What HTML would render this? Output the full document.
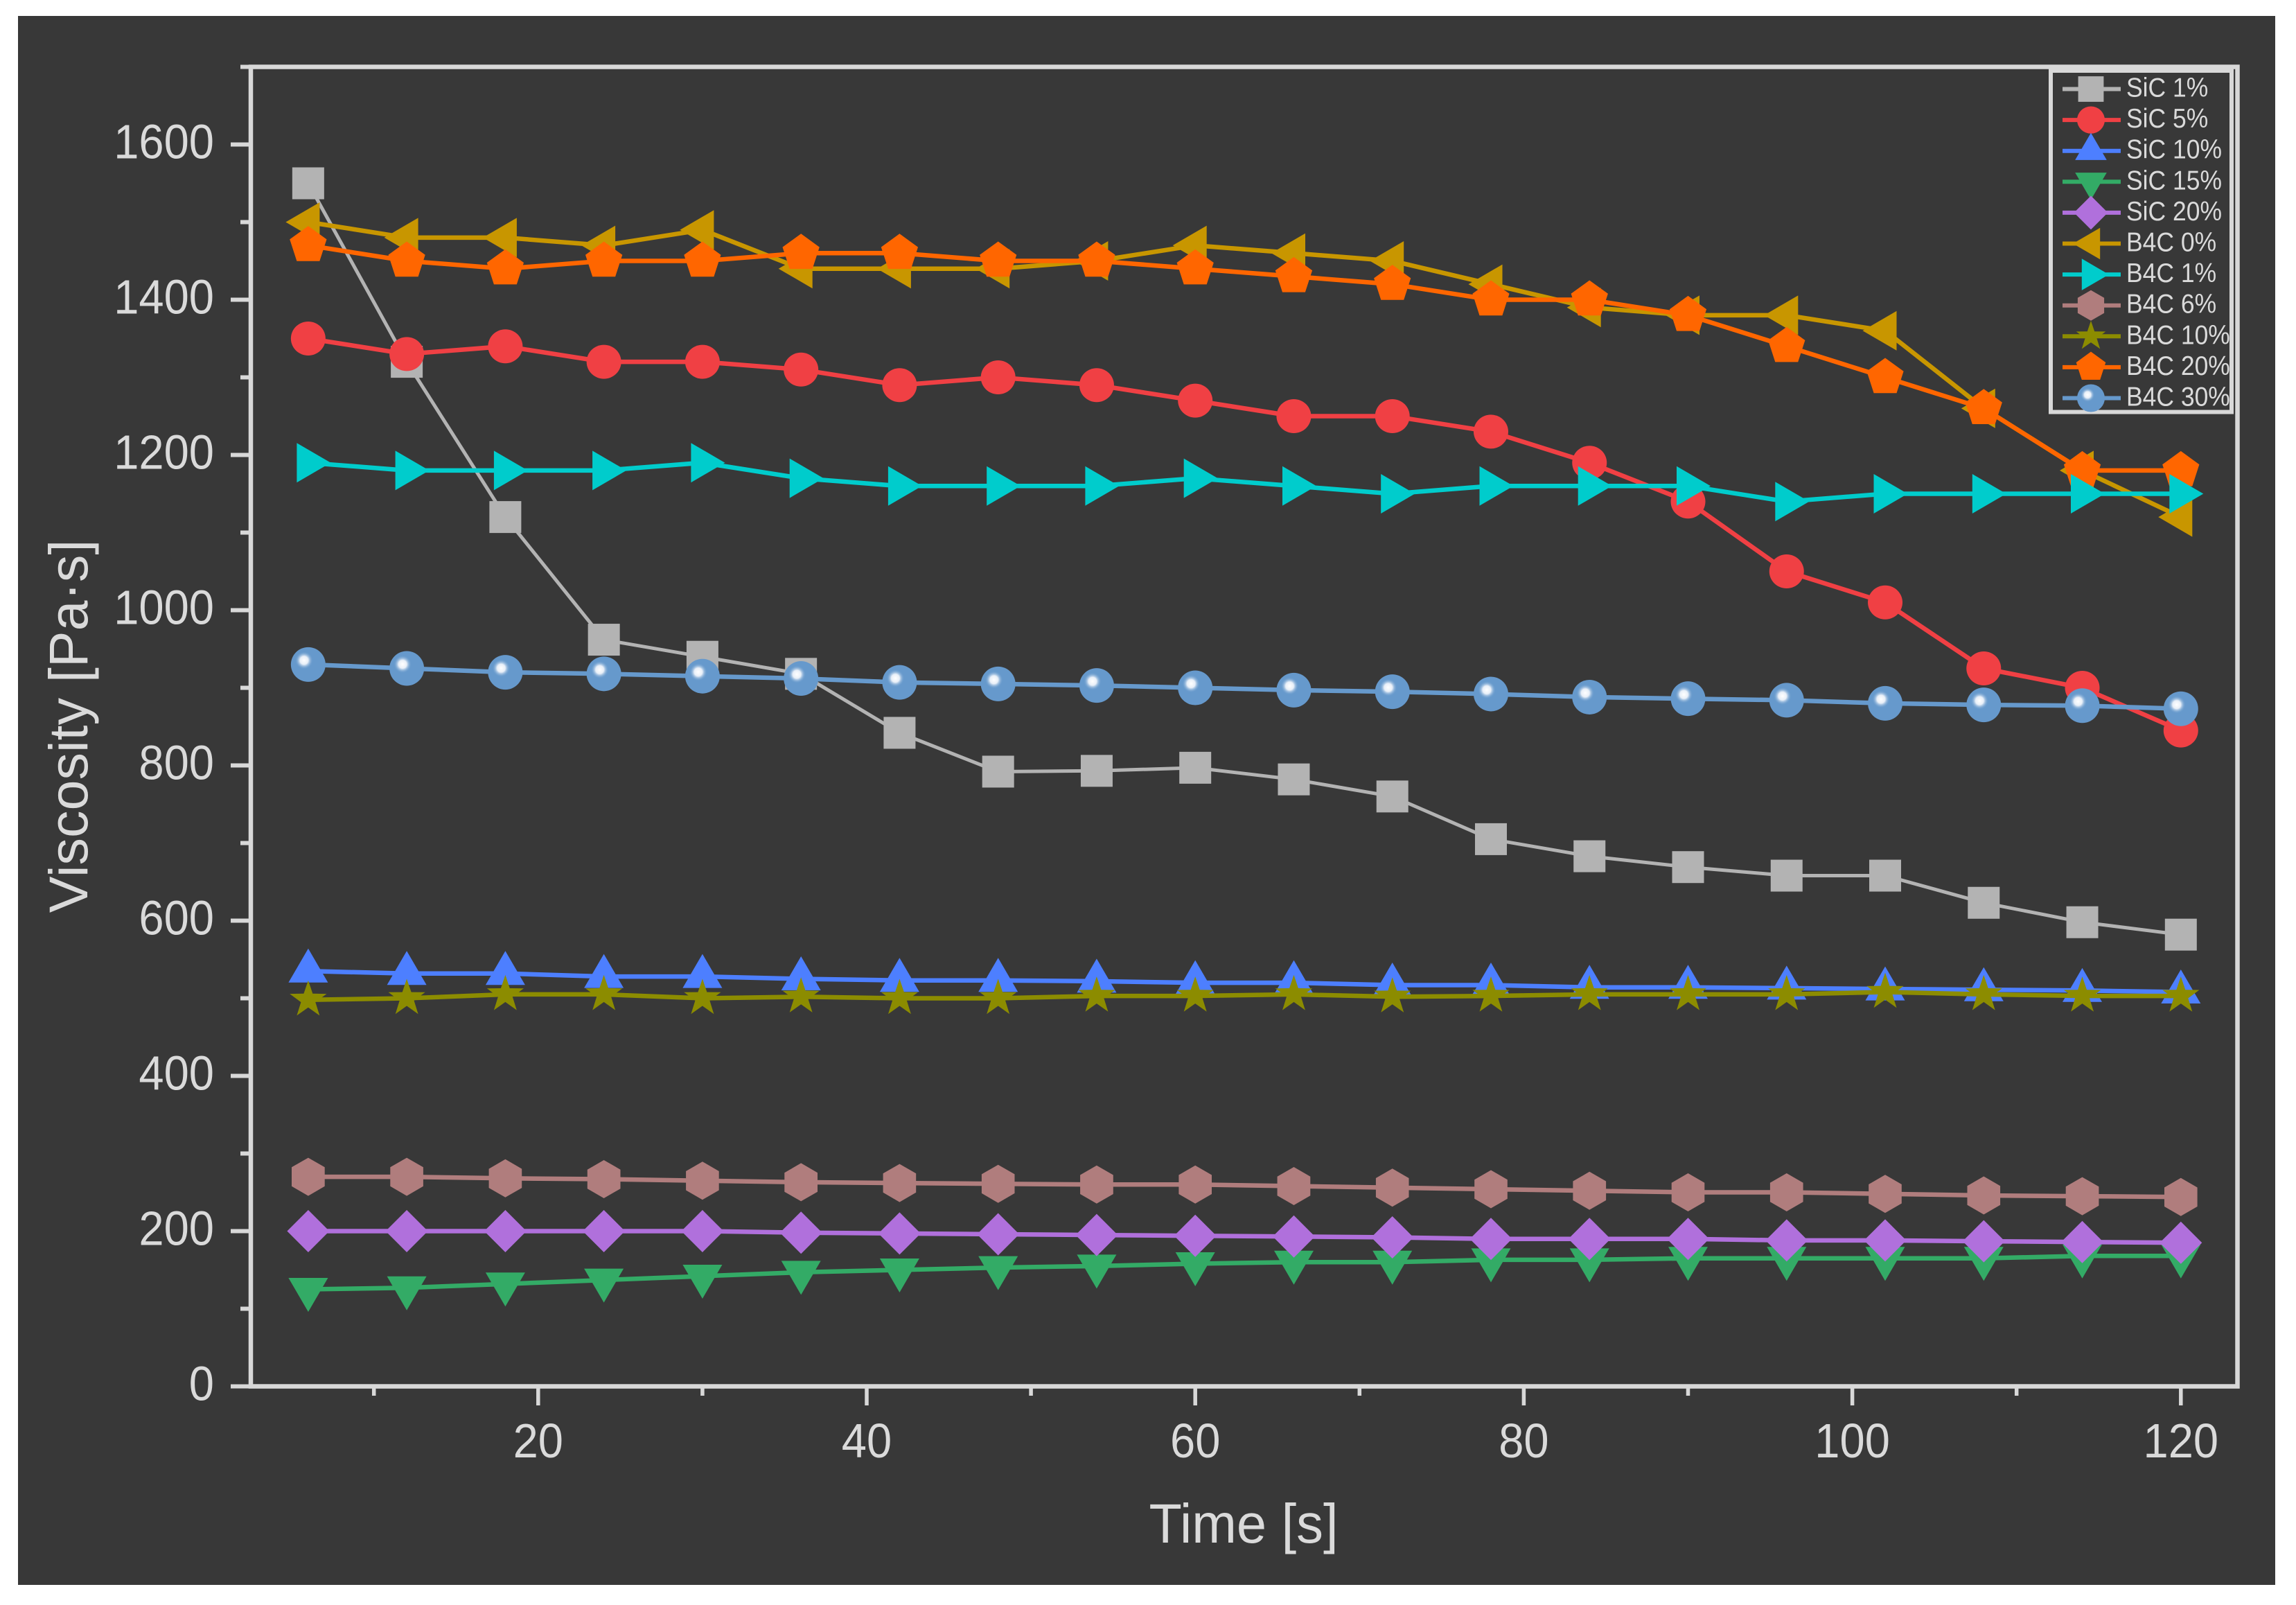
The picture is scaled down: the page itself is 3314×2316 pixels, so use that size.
<!DOCTYPE html>
<html lang="en">
<head>
<meta charset="utf-8">
<title>Viscosity vs Time</title>
<style>
html,body{margin:0;padding:0;background:#ffffff;width:3314px;height:2316px;overflow:hidden}
svg{display:block}
text{font-family:"Liberation Sans",sans-serif;fill:#dadada}
</style>
</head>
<body>
<svg id="chart" width="3314" height="2316" viewBox="0 0 3314 2316" xmlns="http://www.w3.org/2000/svg">
<defs>
<radialGradient id="ball-shine">
<stop offset="0" stop-color="#ffffff"/>
<stop offset="0.45" stop-color="#e8eff8"/>
<stop offset="1" stop-color="#6699cc" stop-opacity="0"/>
</radialGradient>
<clipPath id="legend-clip"><rect x="2963" y="105" width="255" height="487"/></clipPath>
</defs>
<rect x="26" y="23" width="3258" height="2264" fill="#383838"/>
<g id="axes"></g>
<g id="series"></g>
<g id="legend"></g>
</svg>
<script>
const timeValues = [6,12,18,24,30,36,42,48,54,60,66,72,78,84,90,96,102,108,114,120];
const xMajorTicks = [20,40,60,80,100,120];
const xMinorTicks = [10,30,50,70,90,110];
const yMajorTicks = [0,200,400,600,800,1000,1200,1400,1600];
const yMinorTicks = [100,300,500,700,900,1100,1300,1500,1700];

const sic1 = [1550,1320,1120,962,940,918,842,792,793,797,782,760,705,683,669,658,658,623,598,582];
const sic5 = [1350,1330,1340,1320,1320,1310,1290,1300,1290,1270,1250,1250,1230,1190,1140,1050,1010,925,900,845];
const sic10 = [535,532,532,528,528,525,523,523,522,520,520,517,517,514,514,513,512,511,510,508];
const sic15 = [125,127,132,137,142,147,150,153,155,158,160,160,163,163,165,165,165,165,168,168];
const sic20 = [200,200,200,200,200,198,197,196,195,194,193,192,190,190,190,188,188,187,186,185];
const b4c0 = [1500,1480,1480,1470,1490,1440,1440,1440,1450,1470,1460,1450,1420,1390,1380,1380,1360,1260,1180,1120];
const b4c1 = [1190,1180,1180,1180,1190,1170,1160,1160,1160,1170,1160,1150,1160,1160,1160,1140,1150,1150,1150,1150];
const b4c6 = [270,270,268,267,265,263,262,261,260,260,258,256,254,252,250,250,248,246,245,244];
const b4c10 = [498,500,505,505,500,502,500,500,503,503,505,502,503,505,505,505,508,505,503,503];
const b4c20 = [1470,1450,1440,1450,1450,1460,1460,1450,1450,1440,1430,1420,1400,1400,1380,1340,1300,1260,1180,1180];
const b4c30 = [930,925,920,918,915,912,907,905,903,900,897,895,892,888,886,884,880,878,877,873];

const seriesNames = ["SiC 1%","SiC 5%","SiC 10%","SiC 15%","SiC 20%","B4C 0%","B4C 1%","B4C 6%","B4C 10%","B4C 20%","B4C 30%"];
const seriesValues = [sic1,sic5,sic10,sic15,sic20,b4c0,b4c1,b4c6,b4c10,b4c20,b4c30];
const seriesColors = ["#b3b3b3","#f04044","#4d7fff","#33ab66","#b070dc","#c89600","#00cccc","#b07d7d","#8c8c00","#ff6600","#6699cc"];
const seriesSymbols = ["square","circle","up","down","diamond","left","right","hexagon","star","pentagon","ball"];
const drawOrder = [0,1,2,3,4,5,7,8,9,10,6];

const NS = "http://www.w3.org/2000/svg";
const xScale = t => 776.8 + (t - 20) * 23.71;
const yScale = v => 2000.5 - v * 1.12;

function make(tag, parent, attrs) {
  const el = document.createElementNS(NS, tag);
  for (const k in attrs) el.setAttribute(k, attrs[k]);
  parent.appendChild(el);
  return el;
}

function polygonPoints(n, r, startDeg, cx, cy) {
  const pts = [];
  for (let i = 0; i < n; i++) {
    const a = (startDeg + i * 360 / n) * Math.PI / 180;
    pts.push((cx + r * Math.cos(a)).toFixed(1) + "," + (cy + r * Math.sin(a)).toFixed(1));
  }
  return pts.join(" ");
}

function triPoints(cx, cy, s, dir) {
  const a = 28.5 * s, b = 16.5 * s, c = 32.5 * s;
  if (dir === "up") return [[cx, cy - c], [cx + a, cy + b], [cx - a, cy + b]];
  if (dir === "down") return [[cx, cy + c], [cx + a, cy - b], [cx - a, cy - b]];
  if (dir === "left") return [[cx - c, cy], [cx + b, cy - a], [cx + b, cy + a]];
  return [[cx + c, cy], [cx - b, cy - a], [cx - b, cy + a]];
}

function drawSymbol(parent, kind, cx, cy, color, s) {
  let el;
  if (kind === "square") {
    el = make("rect", parent, {x: cx - 23 * s, y: cy - 23 * s, width: 46 * s, height: 46 * s, fill: color});
  } else if (kind === "circle") {
    el = make("ellipse", parent, {cx: cx, cy: cy, rx: 25 * s, ry: 24.5 * s, fill: color});
  } else if (kind === "ball") {
    el = make("ellipse", parent, {cx: cx, cy: cy, rx: 25 * s, ry: 25 * s, fill: color});
    const shine = make("circle", parent, {cx: cx - 6 * s, cy: cy - 6 * s, r: 13 * s, fill: "url(#ball-shine)"});
    
    
  } else if (kind === "up" || kind === "down" || kind === "left" || kind === "right") {
    const pts = triPoints(cx, cy, s, kind).map(p => p[0].toFixed(1) + "," + p[1].toFixed(1)).join(" ");
    el = make("polygon", parent, {points: pts, fill: color});
  } else if (kind === "diamond") {
    el = make("polygon", parent, {points: polygonPoints(4, 30.5 * s, 0, cx, cy), fill: color});
  } else if (kind === "hexagon") {
    el = make("polygon", parent, {points: polygonPoints(6, 27.5 * s, -90, cx, cy), fill: color});
  } else if (kind === "pentagon") {
    el = make("polygon", parent, {points: polygonPoints(5, 28 * s, -90, cx, cy), fill: color});
  } else {
    const pts = [];
    for (let i = 0; i < 10; i++) {
      const r = (i % 2 ? 11 : 28) * s;
      const a = (-90 + i * 36) * Math.PI / 180;
      pts.push((cx + r * Math.cos(a)).toFixed(1) + "," + (cy + r * Math.sin(a)).toFixed(1));
    }
    el = make("polygon", parent, {points: pts.join(" "), fill: color});
  }
  return el;
}

function drawText(parent, str, x, y, size, anchor, sx) {
  const el = make("text", parent, {
    transform: "translate(" + x + " " + y + ") scale(" + sx + " 1)",
    "font-size": size,
    "text-anchor": anchor
  });
  el.textContent = str;
  return el;
}

const axes = document.getElementById("axes");
const AXIS = "#d8d8d8";

const xLeft = 362, xRight = 3229.5, yTop = 96.5, yBottom = 2000.5;

yMinorTicks.forEach(v => {
  const t = make("line", axes, {x1: 347, x2: xLeft, y1: yScale(v), y2: yScale(v), stroke: AXIS, "stroke-width": 6});
  
  
});
yMajorTicks.forEach(v => {
  const t = make("line", axes, {x1: 333, x2: xLeft, y1: yScale(v), y2: yScale(v), stroke: AXIS, "stroke-width": 6});
  
  
  const label = drawText(axes, String(v), 309, yScale(v) + 20, 70, "end", 0.93);
  
  
});
xMinorTicks.forEach(v => {
  const t = make("line", axes, {x1: xScale(v), x2: xScale(v), y1: yBottom, y2: 2014, stroke: AXIS, "stroke-width": 5.5});
  
  
});
xMajorTicks.forEach(v => {
  const t = make("line", axes, {x1: xScale(v), x2: xScale(v), y1: yBottom, y2: 2028, stroke: AXIS, "stroke-width": 5.5});
  
  
  const label = drawText(axes, String(v), xScale(v), 2103, 70, "middle", 0.93);
  
  
});

const frame = make("rect", axes, {x: xLeft, y: yTop, width: xRight - xLeft, height: yBottom - yTop, fill: "none", stroke: AXIS, "stroke-width": 6.5});



const xTitle = drawText(axes, "Time [s]", 1795, 2226, 80, "middle", 0.97);



const yTitle = make("text", axes, {transform: "translate(126 1048) rotate(-90)", "font-size": 79, "text-anchor": "middle"});
yTitle.textContent = "Viscosity [Pa\u00B7s]";



const seriesRoot = document.getElementById("series");
drawOrder.forEach(idx => {
  const g = make("g", seriesRoot, {});
  
  
  const values = seriesValues[idx];
  const pts = values.map((v, i) => xScale(timeValues[i]).toFixed(1) + "," + yScale(v).toFixed(1)).join(" ");
  const line = make("polyline", g, {points: pts, fill: "none", stroke: seriesColors[idx], "stroke-width": idx === 0 ? 5 : 6.5});
  
  
  values.forEach((v, i) => {
    const m = drawSymbol(g, seriesSymbols[idx], xScale(timeValues[i]), yScale(v), seriesColors[idx], 1);
    
    
  });
});

const legend = document.getElementById("legend");
const legendBox = make("rect", legend, {x: 2960, y: 102, width: 261, height: 492.5, fill: "#383838", stroke: AXIS, "stroke-width": 6});


seriesNames.forEach((name, i) => {
  const rowY = 128.5 + i * 44.6;
  const row = make("g", legend, {});
  
  
  const swatch = make("line", row, {x1: 2977, x2: 3061, y1: rowY, y2: rowY, stroke: seriesColors[i], "stroke-width": 6});
  
  
  const sym = drawSymbol(row, seriesSymbols[i], 3018, rowY, seriesColors[i], 0.8);
  
  
  const holder = make("g", row, {"clip-path": "url(#legend-clip)"});
  const label = drawText(holder, name, 3069, rowY + 11, 39, "start", 0.91);
  
  
});
</script>
</body>
</html>
